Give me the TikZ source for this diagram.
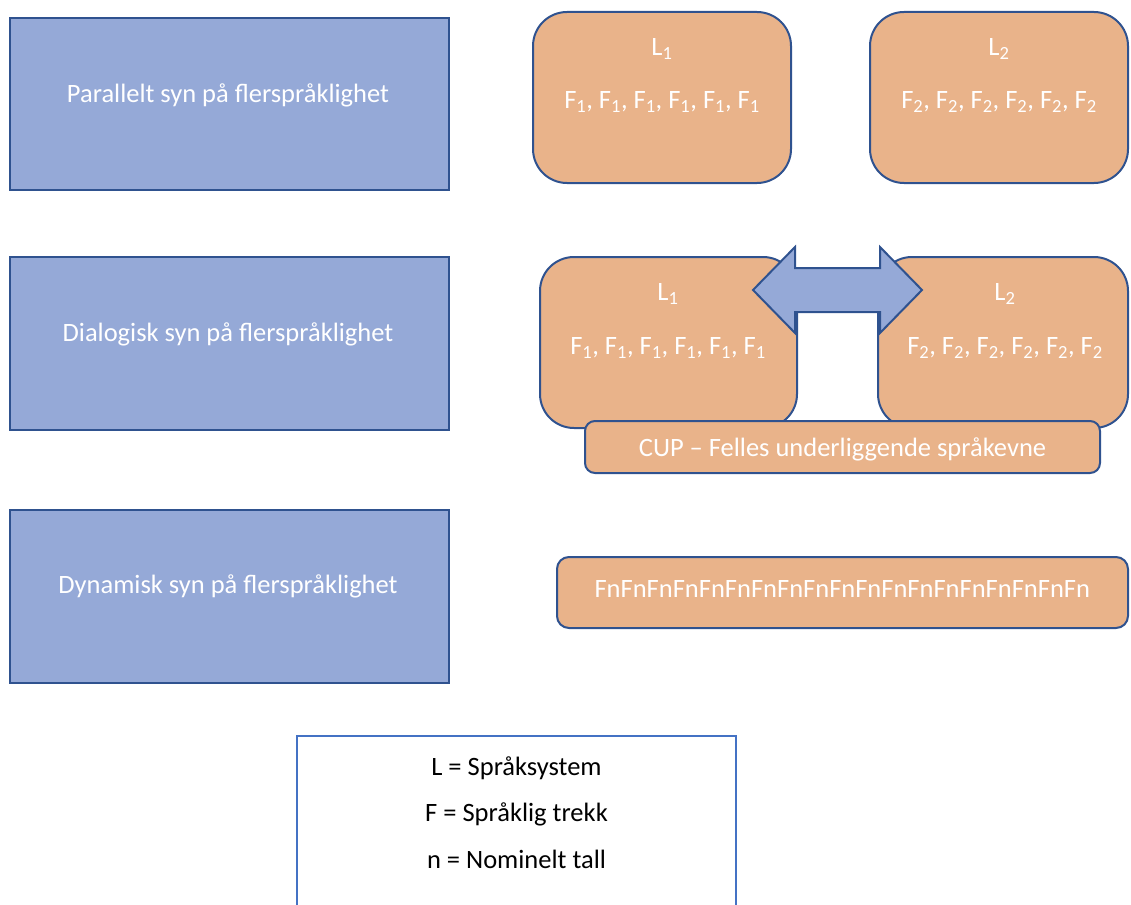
\documentclass[tikz,border=0pt]{standalone}
\usepackage{fontspec}
\setmainfont{Carlito}
\definecolor{bluefill}{HTML}{95A9D7}
\definecolor{blueline}{HTML}{2F528F}
\definecolor{orangefill}{HTML}{E9B38A}
\definecolor{legendline}{HTML}{4472C4}
\tikzset{
  viewbox/.style={draw=blueline, line width=2.2pt, fill=bluefill, rectangle, inner sep=0pt},
  langbox/.style={draw=blueline, line width=2pt, fill=orangefill, rectangle, rounded corners=34pt, inner sep=0pt},
  barbox/.style={draw=blueline, line width=2pt, fill=orangefill, rectangle, rounded corners=10pt, inner sep=0pt},
  wtxt/.style={text=white, font=\fontsize{26.5}{32}\selectfont, inner sep=0pt},
  btxt/.style={text=black, font=\fontsize{26.5}{32}\selectfont, inner sep=0pt},
  bigarrow/.style={draw=blueline, line width=2pt, fill=bluefill, line join=miter},
}
\newcommand{\Fone}{F\textsubscript{1}, F\textsubscript{1}, F\textsubscript{1}, F\textsubscript{1}, F\textsubscript{1}, F\textsubscript{1}}
\newcommand{\Ftwo}{F\textsubscript{2}, F\textsubscript{2}, F\textsubscript{2}, F\textsubscript{2}, F\textsubscript{2}, F\textsubscript{2}}
\begin{document}
\begin{tikzpicture}[x=1pt, y=-1pt]
\useasboundingbox (0,0) rectangle (1131,904);
\clip (0,0) rectangle (1131,904);
% left view boxes
\node[viewbox, minimum width=439pt, minimum height=172pt] (v1) at (229.5,104) {};
\node[wtxt] (v1t) at (228,95) {Parallelt syn på flerspråklighet};
\node[viewbox, minimum width=439pt, minimum height=173pt] (v2) at (229.5,343.5) {};
\node[wtxt] (v2t) at (228,334) {Dialogisk syn på flerspråklighet};
\node[viewbox, minimum width=439pt, minimum height=173pt] (v3) at (229.5,596.5) {};
\node[wtxt] (v3t) at (228,586) {Dynamisk syn på flerspråklighet};
% parallel
\node[langbox, minimum width=258pt, minimum height=171pt] (p1) at (662,97.5) {};
\node[wtxt] (p1l) at (662,49) {L\textsubscript{1}};
\node[wtxt] (p1f) at (662,102) {\Fone};
\node[langbox, minimum width=258pt, minimum height=171pt] (p2) at (999,97.5) {};
\node[wtxt] (p2l) at (999,49) {L\textsubscript{2}};
\node[wtxt] (p2f) at (999,102) {\Ftwo};
% dialogic
\node[langbox, minimum width=257pt, minimum height=171pt] (d1) at (668.5,342.5) {};
\node[wtxt] (d1l) at (668,294) {L\textsubscript{1}};
\node[wtxt] (d1f) at (668,348) {\Fone};
\node[langbox, minimum width=250pt, minimum height=171pt] (d2) at (1003,342.5) {};
\node[wtxt] (d2l) at (1005,294) {L\textsubscript{2}};
\node[wtxt] (d2f) at (1005,348) {\Ftwo};
\node[barbox, minimum width=515pt, minimum height=52pt] (cup) at (842.5,447) {};
\node[wtxt] (cupt) at (842.5,449) {CUP – Felles underliggende språkevne};
\draw[bigarrow] (753,290) -- (795,247) -- (795,268) -- (880,268) -- (880,247) -- (922,290)
  -- (880,333) -- (880,312) -- (795,312) -- (795,333) -- cycle;
% dynamic
\node[barbox, rounded corners=12pt, minimum width=571pt, minimum height=71pt] (dyn) at (842.5,592.5) {};
\node[wtxt] (dynt) at (842.5,589) {FnFnFnFnFnFnFnFnFnFnFnFnFnFnFnFnFnFnFn};
% legend
\node[draw=legendline, line width=1.6pt, fill=white, rectangle, inner sep=0pt, minimum width=439pt, minimum height=180pt] (leg) at (516.5,826) {};
\node[btxt] (l1) at (516.5,768) {L = Språksystem};
\node[btxt] (l2) at (516.5,814) {F = Språklig trekk};
\node[btxt] (l3) at (516.5,859) {n = Nominelt tall};
\end{tikzpicture}
\end{document}
